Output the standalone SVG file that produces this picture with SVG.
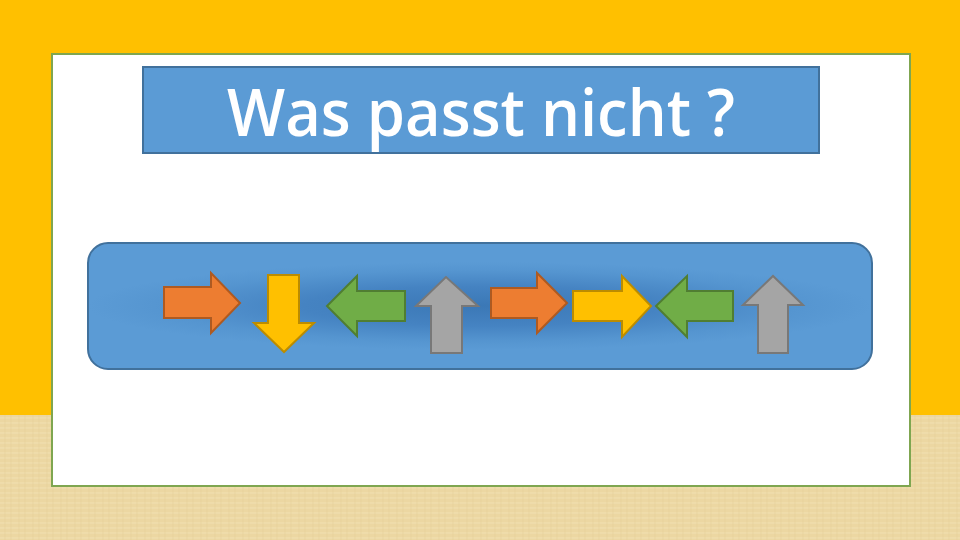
<svg xmlns="http://www.w3.org/2000/svg" width="960" height="540" viewBox="0 0 960 540">
<defs>
<style>
.orange{fill:#ED7D31;stroke:#AE5A21;stroke-width:2}
.yellow{fill:#FFC000;stroke:#BC8C00;stroke-width:2}
.green{fill:#70AD47;stroke:#507E32;stroke-width:2}
.gray{fill:#A5A5A5;stroke:#787878;stroke-width:2}
.title{font-family:"Open Sans","Liberation Sans",sans-serif;font-size:66px;font-weight:600;fill:#FFFFFF}
</style>
<pattern id="linen" width="14" height="10" patternUnits="userSpaceOnUse">
<rect width="14" height="10" fill="#ECD7A2"/>
<path d="M0 3H14M0 8H14" stroke="#F4E4BB" stroke-width="1" opacity="0.6"/>
<path d="M5 0V10M11 0V10" stroke="#E0C98F" stroke-width="1" opacity="0.4"/>
</pattern>
<radialGradient id="panelGrad" cx="0.5" cy="0.5" r="0.5" gradientTransform="translate(0.5 0.5) scale(1 0.7) translate(-0.5 -0.5)">
<stop offset="0" stop-color="#3B78B6"/>
<stop offset="0.45" stop-color="#4583C2"/>
<stop offset="0.8" stop-color="#5595D0"/>
<stop offset="1" stop-color="#5B9BD5"/>
</radialGradient>
</defs>
<rect x="0" y="0" width="960" height="540" fill="#FFC000"/>
<rect x="0" y="415" width="960" height="125" fill="url(#linen)"/>
<rect id="card" x="52" y="54" width="858" height="432" fill="#FFFFFF" stroke="#7FA650" stroke-width="2"/>
<g id="title">
<rect x="143" y="67" width="676" height="86" fill="#5B9BD5" stroke="#41719C" stroke-width="2"/>
<text class="title" x="481" y="136" text-anchor="middle" textLength="508" lengthAdjust="spacingAndGlyphs">Was passt nicht ?</text>
</g>
<g id="panel">
<rect x="88" y="243" width="784" height="126" rx="20" ry="20" fill="url(#panelGrad)" stroke="#41719C" stroke-width="2"/>
</g>
<g id="arrow1"><polygon class="orange" points="164,287 211,287 211,273 240,303 211,333 211,318 164,318"/></g>
<g id="arrow2"><polygon class="yellow" points="268,275 299,275 299,323 314,323 284,352 254,323 268,323"/></g>
<g id="arrow3"><polygon class="green" points="405,291 357,291 357,276 327,306 357,336 357,321 405,321"/></g>
<g id="arrow4"><polygon class="gray" points="431,353 462,353 462,306 478,306 446,277 416,306 431,306"/></g>
<g id="arrow5"><polygon class="orange" points="491,288 537,288 537,273 567,303 537,333 537,318 491,318"/></g>
<g id="arrow6"><polygon class="yellow" points="573,291 622,291 622,276 651,306 622,337 622,321 573,321"/></g>
<g id="arrow7"><polygon class="green" points="733,291 687,291 687,276 656,306 687,337 687,321 733,321"/></g>
<g id="arrow8"><polygon class="gray" points="758,353 788,353 788,305 803,305 773,276 743,305 758,305"/></g>
<g id="connectors"></g>
</svg>
